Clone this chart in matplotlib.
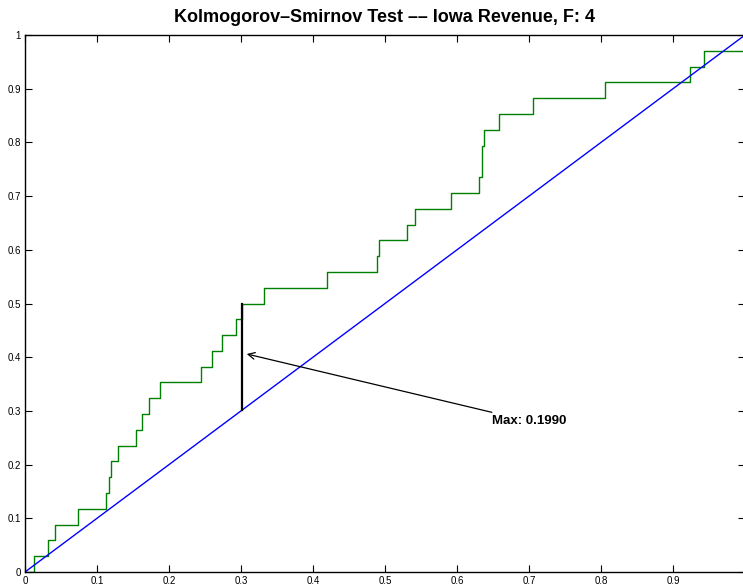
import numpy as np
import matplotlib
matplotlib.use('Agg')
import matplotlib.pyplot as plt

# sorted sample values (normalised)
samples = [0.013, 0.032, 0.042, 0.074, 0.113, 0.116, 0.119, 0.129, 0.154, 0.163,
           0.172, 0.1875, 0.244, 0.260, 0.273, 0.293, 0.301, 0.332, 0.419, 0.489,
           0.492, 0.531, 0.542, 0.591, 0.631, 0.635, 0.635, 0.638, 0.658, 0.705,
           0.806, 0.924, 0.943, 1.0]
max_x = 0.301
max_d = 0.1990
ref_line = [0, 1]

n = len(samples)
xs = np.concatenate([[0.0], samples])
ys = np.arange(n + 1) / n

plt.rcParams['font.family'] = ['Liberation Sans', 'DejaVu Sans']

fig = plt.figure(figsize=(7.43, 5.85), dpi=100)
ax = fig.add_axes([25 / 743, 13 / 585, 720 / 743, 537 / 585])

ax.step(xs, ys, where='post', color='#008000', lw=1.0)
ax.plot(ref_line, ref_line, color='#0000ff', lw=1.0)
ax.plot([max_x, max_x], [max_x, max_x + max_d], color='black', lw=1.6)

ax.annotate('Max: %.4f' % max_d, xy=(0.308, 0.406), xytext=(0.648, 0.281),
            fontsize=9.5, fontweight='bold', va='center', ha='left',
            arrowprops=dict(arrowstyle='->', color='black', lw=0.9,
                            shrinkA=0, shrinkB=0, mutation_scale=12))

ax.set_xlim(0, 1)
ax.set_ylim(0, 1)
ax.set_xticks(np.arange(0, 1.0, 0.1))
ax.set_yticks(np.arange(0, 1.01, 0.1))
ax.set_xticklabels(['0'] + ['%.1f' % v for v in np.arange(0.1, 1.0, 0.1)])
ax.set_yticklabels(['0'] + ['%.1f' % v for v in np.arange(0.1, 1.0, 0.1)] + ['1'])
ax.tick_params(direction='in', length=5, width=0.8, labelsize=7, top=True, right=True, pad=3)
for s in ax.spines.values():
    s.set_linewidth(1.0)

ax.set_title('Kolmogorov\u2013Smirnov Test \u2013\u2013 Iowa Revenue, F: 4',
             fontsize=13, fontweight='bold', pad=9)

fig.savefig('out.png', dpi=100)
